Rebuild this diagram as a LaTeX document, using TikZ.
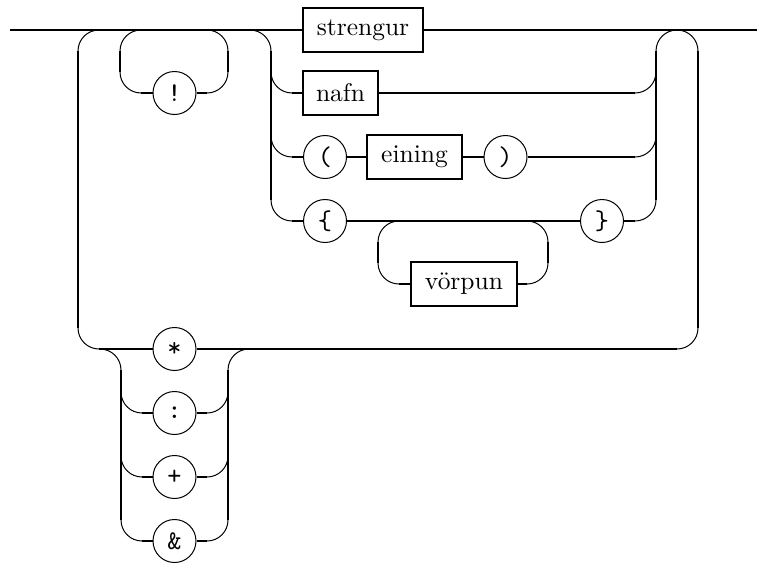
\documentclass[tikz,border=0pt]{standalone}
\usepackage{graphicx}
\newcommand\ntlabel[1]{\scalebox{2.55}{\fontsize{10}{12}\selectfont #1}}
\newcommand\tlabel[1]{\scalebox{2.7}{\ttfamily\fontsize{10}{12}\selectfont #1}}
\begin{document}
\begin{tikzpicture}[x=1pt,y=-1pt,
  wire/.style={line width=2pt},
  curve/.style={line width=1pt},
  term/.style={draw,line width=1pt,circle,minimum size=43pt,inner sep=0pt},
  nonterm/.style={draw,line width=2.2pt,rectangle,minimum height=44pt,inner sep=0pt}]
\useasboundingbox (0,0) rectangle (757,563);

% terminals and non-terminals
\node[nonterm,minimum width=120pt] (str) at (363,30) {\ntlabel{strengur}};
\node[nonterm,minimum width=75pt]  (naf) at (340.5,93) {\ntlabel{nafn}};
\node[term] (lpar) at (325,157) {\tlabel{(}};
\node[nonterm,minimum width=95pt]  (ein) at (414.5,157) {\ntlabel{eining}};
\node[term] (rpar) at (505.5,157) {\tlabel{)}};
\node[term] (lbr) at (325,221) {\tlabel{\{}};
\node[term] (rbr) at (602,221) {\tlabel{\}}};
\node[nonterm,minimum width=106pt] (vor) at (464,284) {\ntlabel{vörpun}};
\node[term] (bang) at (174.5,93) {\tlabel{!}};
\node[term] (ast) at (174.5,349) {\tlabel{*}};
\node[term] (col) at (174.5,413) {\tlabel{:}};
\node[term] (pls) at (174.5,477) {\tlabel{+}};
\node[term] (amp) at (174.5,541) {\tlabel{\&}};

\coordinate (in)  at (10,30);
\coordinate (out) at (757,30);

% main track
\draw[wire] (in) -- (str);
\draw[wire] (str) -- (out);

% outer repetition loop
\draw[curve] (78,51) arc[start angle=180,end angle=270,radius=21];
\draw[wire] (78,51) -- (78,328);
\draw[curve] (78,328) arc[start angle=180,end angle=90,radius=21];
\draw[wire] (99,349) -- (ast);
\draw[wire] (ast) -- (677,349);
\draw[curve] (677,349) arc[start angle=90,end angle=0,radius=21];
\draw[wire] (698,328) -- (698,51);
\draw[curve] (656,51) arc[start angle=180,end angle=360,radius=21];

% optional "!"
\draw[curve] (141,30) arc[start angle=270,end angle=180,radius=21];
\draw[wire] (120,51) -- (120,72);
\draw[curve] (120,72) arc[start angle=180,end angle=90,radius=21];
\draw[wire] (141,93) -- (bang);
\draw[wire] (bang) -- (207,93);
\draw[curve] (207,93) arc[start angle=90,end angle=0,radius=21];
\draw[wire] (228,72) -- (228,51);
\draw[curve] (228,51) arc[start angle=0,end angle=-90,radius=21];

% alternatives: split and join
\draw[curve] (250,30) arc[start angle=270,end angle=360,radius=21];
\draw[wire] (271,51) -- (271,200);
\draw[wire] (656,200) -- (656,51);
\foreach \y in {93,157,221} {
  \draw[curve] (271,\y-21) arc[start angle=180,end angle=90,radius=21];
  \draw[curve] (635,\y) arc[start angle=90,end angle=0,radius=21];
}
\draw[wire] (292,93) -- (naf);
\draw[wire] (naf) -- (635,93);
\draw[wire] (292,157) -- (lpar);
\draw[wire] (lpar) -- (ein);
\draw[wire] (ein) -- (rpar);
\draw[wire] (rpar) -- (635,157);
\draw[wire] (292,221) -- (lbr);
\draw[wire] (lbr) -- (rbr);
\draw[wire] (rbr) -- (635,221);

% loop with "vörpun"
\draw[curve] (399,221) arc[start angle=270,end angle=180,radius=21];
\draw[wire] (378,242) -- (378,263);
\draw[curve] (378,263) arc[start angle=180,end angle=90,radius=21];
\draw[wire] (399,284) -- (vor);
\draw[wire] (vor) -- (527,284);
\draw[curve] (527,284) arc[start angle=90,end angle=0,radius=21];
\draw[wire] (548,263) -- (548,242);
\draw[curve] (548,242) arc[start angle=0,end angle=-90,radius=21];

% separators on the return track
\draw[curve] (100,349) arc[start angle=270,end angle=360,radius=21];
\draw[wire] (121,370) -- (121,520);
\draw[wire] (228,520) -- (228,370);
\draw[curve] (228,370) arc[start angle=180,end angle=270,radius=21];
\foreach \y/\n in {413/col,477/pls,541/amp} {
  \draw[curve] (121,\y-21) arc[start angle=180,end angle=90,radius=21];
  \draw[wire] (142,\y) -- (\n);
  \draw[wire] (\n) -- (207,\y);
  \draw[curve] (207,\y) arc[start angle=90,end angle=0,radius=21];
}
\end{tikzpicture}
\end{document}
